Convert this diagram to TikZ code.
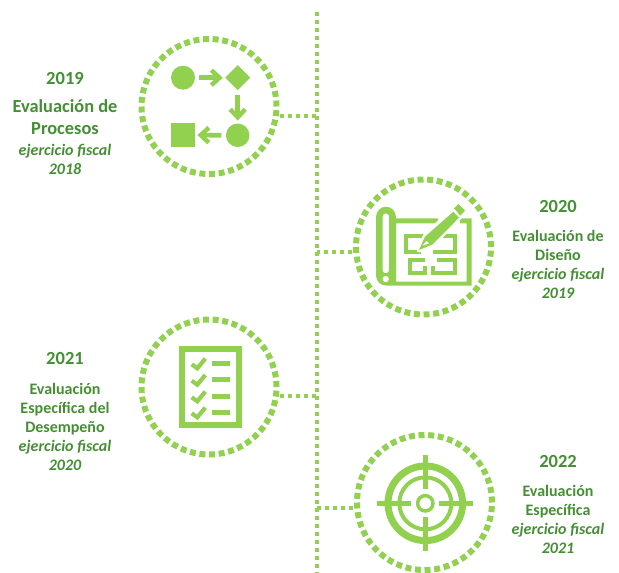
\documentclass[tikz,border=0pt]{standalone}
\usepackage{fontspec}
\setmainfont{Carlito}
\usetikzlibrary{shapes.geometric,arrows.meta}
\definecolor{lime}{HTML}{92D050}
\definecolor{txt}{HTML}{448F33}
\newcommand{\yr}[1]{{\fontsize{18.5}{19}\selectfont\bfseries #1}}
\newcommand{\lead}[1]{{\fontsize{18.4}{19}\selectfont\bfseries #1}}
\newcommand{\ev}[1]{{\fontsize{16}{19}\selectfont\bfseries #1}}
\newcommand{\fy}[1]{{\fontsize{16}{19}\selectfont\bfseries\itshape #1}}
\tikzset{
  ring/.style={circle,draw=lime,line width=6pt,minimum size=135pt,inner sep=0pt,outer sep=0pt,dash pattern=on 6pt off 3.64pt},
  spine/.style={draw=lime,line width=4pt,dash pattern=on 4pt off 4pt},
  link/.style={draw=lime,line width=4pt,dash pattern=on 4pt off 4pt,shorten <=4pt},
  block/.style={text=txt,align=center,inner sep=0pt,anchor=north,font=\fontsize{15}{19}\selectfont},
  glyph/.style={fill=lime,draw=none,inner sep=0pt,outer sep=0pt},
  flow/.style={draw=lime,line width=4.7pt,-{Straight Barb[length=8pt,width=15pt,line width=4.5pt]}},
  plan/.style={draw=lime,line width=3.6pt},
  tick/.style={draw=lime,line width=4.2pt},
  bar/.style={draw=lime,line width=4.6pt},
  cross/.style={draw=lime,line width=4.7pt}
}
\begin{document}
\begin{tikzpicture}[x=1pt,y=-1pt]
\useasboundingbox (0,0) rectangle (619,573);
% spine
\coordinate (top) at (317,12);
\coordinate (bot) at (317,573);
\draw[spine] (top) -- (bot);
% rings
\node[ring] (c1) at (209,106.5) {};
\node[ring] (c2) at (423.5,247) {};
\node[ring] (c3) at (209,387) {};
\node[ring] (c4) at (424.5,502.5) {};
\draw[link] (c1.-8) -- (c1.-8 -| top);
\draw[link] (c2.184) -- (c2.184 -| top);
\draw[link] (c3.-8) -- (c3.-8 -| top);
\draw[link] (c4.185) -- (c4.185 -| top);
% icon 1: process
\node[glyph,circle,minimum size=24pt] (p1) at (183,77.7) {};
\node[glyph,diamond,minimum size=25pt] (p2) at (237.7,77.7) {};
\node[glyph,circle,minimum size=23.5pt] (p3) at (237.7,135.3) {};
\node[glyph,rectangle,minimum size=24pt] (p4) at (183,135) {};
\draw[flow,shorten <=4.3pt,shorten >=2.5pt] (p1) -- (p2);
\draw[flow,shorten <=4.5pt,shorten >=3pt] (p2) -- (p3);
\draw[flow,shorten <=4.5pt,shorten >=2.5pt] (p3) -- (p4);
% icon 2: blueprint
\fill[lime,even odd rule]
  (376,217.2) arc[start angle=180,end angle=360,x radius=10,y radius=10.5] -- (396,218.3)
  -- (438,218.3) -- (438,223.3) -- (396,223.3) -- (396,281.7) -- (466.7,281.7) -- (466.7,223.3) -- (460,223.3)
  -- (460,218.3) -- (471.7,218.3) -- (471.7,285.5) -- (386,285.5)
  arc[start angle=90,end angle=180,radius=10] -- cycle
  (382.5,216.6) arc[start angle=180,end angle=360,radius=3.3] -- (389.1,270)
  arc[start angle=0,end angle=180,radius=3.3] -- cycle
  (389,279) arc[start angle=0,end angle=360,radius=3.3] -- cycle;
\draw[plan] (433,236) -- (406,236) -- (406,252) -- (421,252);
\draw[plan] (441,236) -- (455,236) -- (455,252) -- (433,252);
\draw[plan] (425,260) -- (410,260) -- (410,273) -- (425,273) -- (425,266);
\draw[plan] (433,266) -- (433,273) -- (455,273) -- (455,260) -- (437,260);
\path[fill=white,draw=white,line width=5pt,line join=round] (419,250) -- (425,236.7) -- (453.3,209) -- (458.3,204) -- (465,210.7) -- (459,217.7) -- (432.7,244.3) -- cycle;
\fill[lime] (419,250) -- (425,236.7) -- (453.3,211.7) -- (459,217.7) -- (432.7,244.3) -- cycle;
\fill[lime] (454,208.3) -- (458.3,204) -- (465,210.7) -- (460.3,215.7) -- cycle;
\fill[white] (422.5,245.5) -- (426.5,241) -- (429,243.5) -- cycle;
% icon 3: checklist
\draw[draw=lime,line width=6pt] (182,349.3) rectangle (238.7,424.7);
\foreach \r/\rowy in {a/363.3,b/379.7,c/396.3,d/412.3}{
  \coordinate (l\r) at (212,\rowy);
  \coordinate (m\r) at (230,\rowy);
  \draw[bar] (l\r) -- (m\r);
  \draw[tick] ([shift={(-20.3,1)}]l\r) -- ([shift={(-14.7,5)}]l\r) -- ([shift={(-6.7,-4.7)}]l\r);
}
% icon 4: target
\coordinate (t) at (425.3,503.3);
\draw[draw=lime,line width=7pt] (t) circle[radius=37.3];
\draw[draw=lime,line width=4pt] (t) circle[radius=26];
\draw[draw=lime,line width=3.5pt] (t) circle[radius=7.7];
\draw[cross] ([yshift=-48pt]t) -- ([yshift=-14pt]t);
\draw[cross] ([yshift=14pt]t) -- ([yshift=48pt]t);
\draw[cross] ([xshift=-48pt]t) -- ([xshift=-14pt]t);
\draw[cross] ([xshift=14pt]t) -- ([xshift=48pt]t);
% texts
\node[block] (b1) at (65,72.5) {\yr{2019}\\[9pt]\lead{Evaluación de}\\[3pt]\lead{Procesos}\\[2pt]\fy{ejercicio fiscal}\\\fy{2018}};
\node[block] (b2) at (558,200.5) {\yr{2020}\\[10pt]\ev{Evaluación de}\\\ev{Diseño}\\\fy{ejercicio fiscal}\\\fy{2019}};
\node[block] (b3) at (65,352.5) {\yr{2021}\\[11pt]\ev{Evaluación}\\\ev{Específica del}\\\ev{Desempeño}\\\fy{ejercicio fiscal}\\\fy{2020}};
\node[block] (b4) at (558,455.5) {\yr{2022}\\[10pt]\ev{Evaluación}\\\ev{Específica}\\\fy{ejercicio fiscal}\\\fy{2021}};
\end{tikzpicture}
\end{document}
